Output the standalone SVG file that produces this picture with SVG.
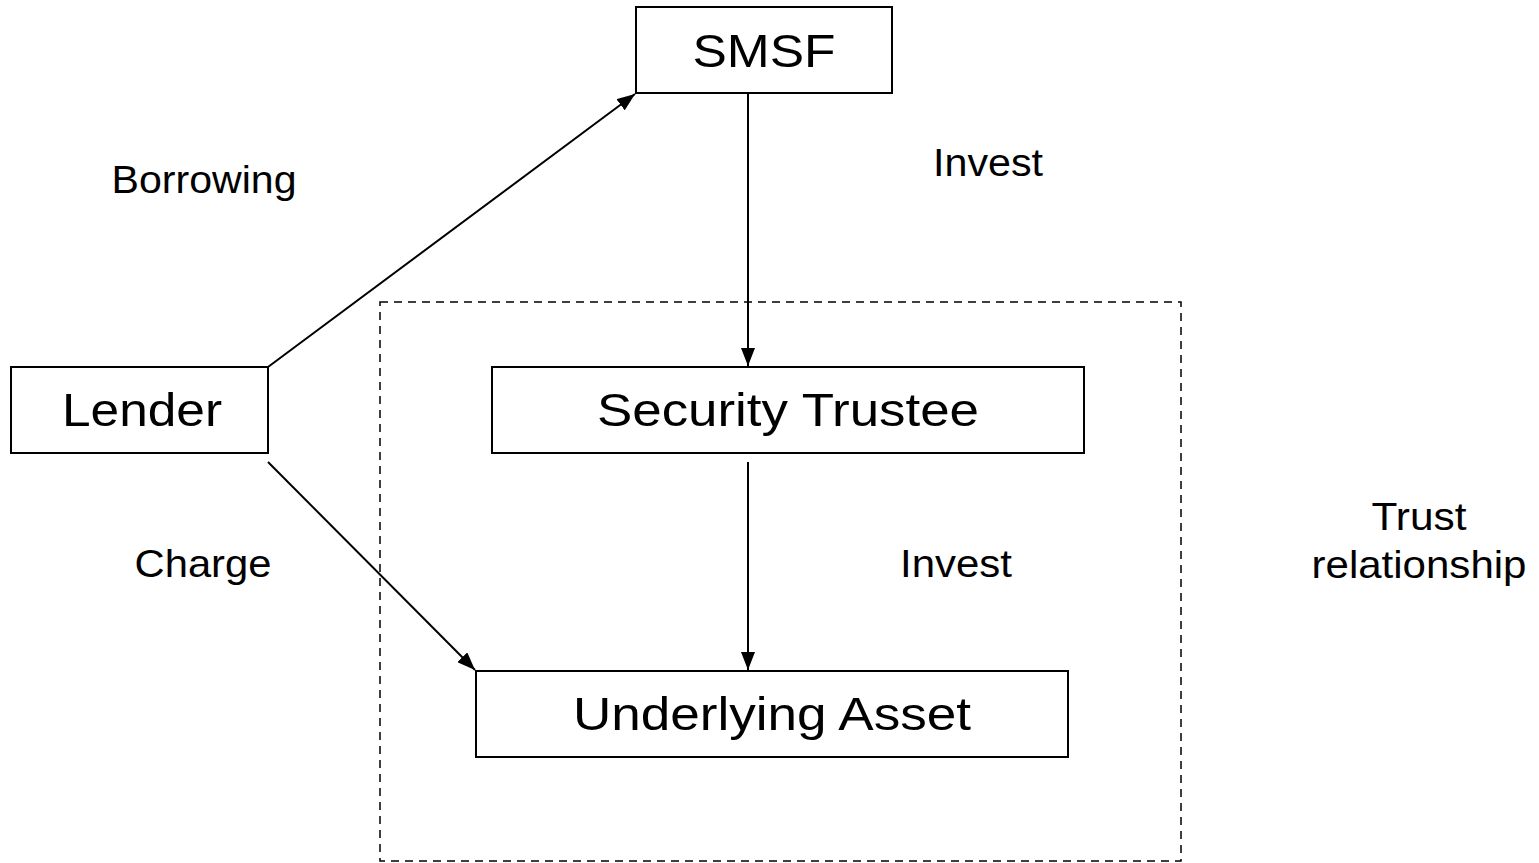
<svg xmlns="http://www.w3.org/2000/svg" width="1539" height="863" viewBox="0 0 1539 863">
<defs>
<style>
.box{fill:#fff;stroke:#000;stroke-width:2}
.nt{font-family:"Liberation Sans",Arial,sans-serif;font-size:46px;fill:#000;text-anchor:middle}
.lt{font-family:"Liberation Sans",Arial,sans-serif;font-size:39px;fill:#000;text-anchor:middle}
.ln{stroke:#000;stroke-width:2;fill:none}
</style>
<marker id="ah" viewBox="0 0 18 14" refX="18" refY="7" markerWidth="18" markerHeight="14" markerUnits="userSpaceOnUse" orient="auto">
<path d="M0,0 L18,7 L0,14 z" fill="#000"/>
</marker>
</defs>
<rect width="1539" height="863" fill="#fff"/>
<g id="trust-boundary">
<rect x="380" y="302" width="801" height="559" fill="none" stroke="#000" stroke-width="1.5" stroke-dasharray="8,6"/>
</g>
<g id="connectors">
<line class="ln" x1="268" y1="367" x2="635" y2="94" marker-end="url(#ah)"/>
<line class="ln" x1="748" y1="93" x2="748" y2="366" marker-end="url(#ah)"/>
<line class="ln" x1="748" y1="462" x2="748" y2="670" marker-end="url(#ah)"/>
<line class="ln" x1="268" y1="462" x2="475" y2="670" marker-end="url(#ah)"/>
</g>
<g id="smsf">
<rect class="box" x="636" y="7" width="256" height="86"/>
<text class="nt" x="764" y="67" textLength="143" lengthAdjust="spacingAndGlyphs">SMSF</text>
</g>
<g id="lender">
<rect class="box" x="11" y="367" width="257" height="86"/>
<text class="nt" x="142" y="426" textLength="160" lengthAdjust="spacingAndGlyphs">Lender</text>
</g>
<g id="security-trustee">
<rect class="box" x="492" y="367" width="592" height="86"/>
<text class="nt" x="788" y="426" textLength="382" lengthAdjust="spacingAndGlyphs">Security Trustee</text>
</g>
<g id="underlying-asset">
<rect class="box" x="476" y="671" width="592" height="86"/>
<text class="nt" x="772" y="730" textLength="398" lengthAdjust="spacingAndGlyphs">Underlying Asset</text>
</g>
<g id="labels">
<text class="lt" x="204" y="193" textLength="185" lengthAdjust="spacingAndGlyphs">Borrowing</text>
<text class="lt" x="988" y="176" textLength="110" lengthAdjust="spacingAndGlyphs">Invest</text>
<text class="lt" x="203" y="577" textLength="137" lengthAdjust="spacingAndGlyphs">Charge</text>
<text class="lt" x="956" y="577" textLength="112" lengthAdjust="spacingAndGlyphs">Invest</text>
<text class="lt" x="1419" y="530" textLength="95" lengthAdjust="spacingAndGlyphs">Trust</text>
<text class="lt" x="1419" y="578" textLength="215" lengthAdjust="spacingAndGlyphs">relationship</text>
</g>
</svg>
